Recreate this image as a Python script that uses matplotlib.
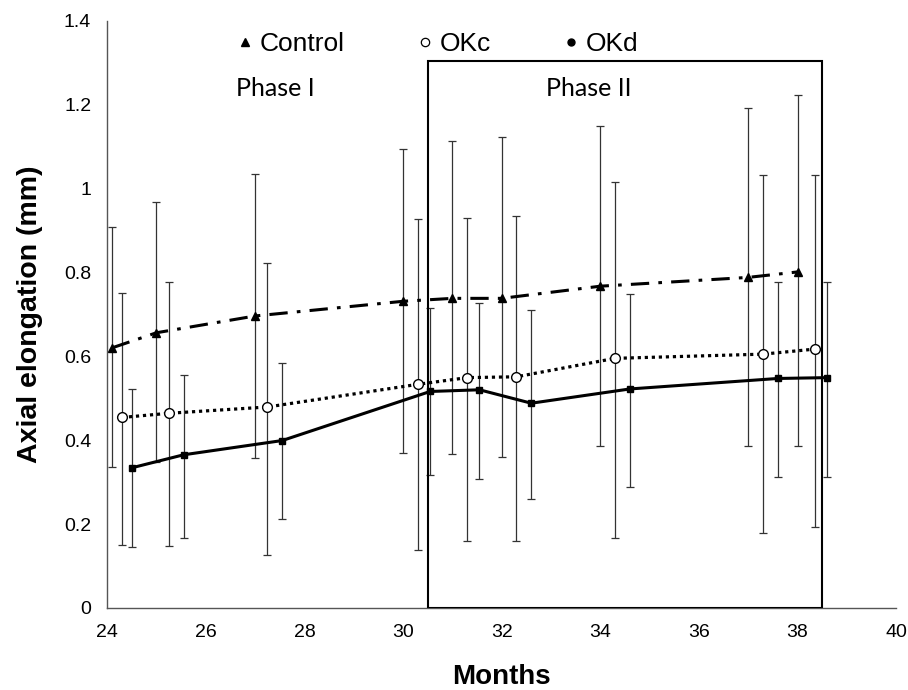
import matplotlib
matplotlib.use("Agg")
import matplotlib.pyplot as plt
from matplotlib.lines import Line2D
from matplotlib.patches import Rectangle

# data
ctrl_x = [24.1, 25.0, 27.0, 30.0, 31.0, 32.0, 34.0, 37.0, 38.0]
ctrl_y = [0.62, 0.656, 0.696, 0.731, 0.738, 0.738, 0.767, 0.788, 0.801]
ctrl_hi = [0.908, 0.967, 1.035, 1.094, 1.112, 1.122, 1.148, 1.193, 1.224]
ctrl_lo = [0.335, 0.347, 0.357, 0.369, 0.368, 0.360, 0.387, 0.385, 0.385]

okc_x = [24.3, 25.25, 27.25, 30.3, 31.3, 32.3, 34.3, 37.3, 38.35]
okc_y = [0.454, 0.464, 0.479, 0.533, 0.549, 0.551, 0.595, 0.605, 0.617]
okc_hi = [0.751, 0.776, 0.823, 0.928, 0.930, 0.935, 1.015, 1.031, 1.033]
okc_lo = [0.151, 0.147, 0.126, 0.138, 0.159, 0.159, 0.167, 0.179, 0.193]

okd_x = [24.5, 25.55, 27.55, 30.55, 31.55, 32.6, 34.6, 37.6, 38.6]
okd_y = [0.334, 0.365, 0.399, 0.516, 0.520, 0.488, 0.522, 0.547, 0.549]
okd_hi = [0.521, 0.556, 0.584, 0.714, 0.728, 0.710, 0.748, 0.776, 0.777]
okd_lo = [0.145, 0.167, 0.212, 0.318, 0.307, 0.260, 0.289, 0.311, 0.311]

phase2 = (30.5, 38.5)
x_ticks = [24, 26, 28, 30, 32, 34, 36, 38, 40]
y_ticks = [0, 0.2, 0.4, 0.6, 0.8, 1.0, 1.2, 1.4]
y_tick_labels = ["0", "0.2", "0.4", "0.6", "0.8", "1", "1.2", "1.4"]

plt.rcParams['font.family'] = ['Liberation Sans', 'DejaVu Sans']

fig = plt.figure(figsize=(9.08, 6.9), dpi=100)
ax = fig.add_axes([0.118, 0.119, 0.869, 0.851])

def draw(x, y, hi, lo, marker, mfc, ms, ls, lw):
    err = [[v - l for v, l in zip(y, lo)], [h - v for v, h in zip(y, hi)]]
    ax.errorbar(x, y, yerr=err, fmt='none', ecolor='#333333', elinewidth=0.9,
                capsize=3, capthick=0.9, zorder=2)
    ax.plot(x, y, color='black', linestyle=ls, lw=lw, zorder=3)
    ax.plot(x, y, linestyle='none', marker=marker, color='black', mfc=mfc,
            ms=ms, mew=1, zorder=4)

draw(ctrl_x, ctrl_y, ctrl_hi, ctrl_lo, '^', 'black', 6, (0, (6, 3, 1.2, 3)), 2.2)
draw(okc_x, okc_y, okc_hi, okc_lo, 'o', 'white', 7, (0, (1, 1.2)), 2.3)
draw(okd_x, okd_y, okd_hi, okd_lo, 's', 'black', 5, '-', 2.2)

# phase II box
ax.add_patch(Rectangle((phase2[0], 0), phase2[1] - phase2[0], 1.304,
                       fill=False, edgecolor='black', lw=1.5, zorder=5))
ax.text(27.41, 1.238, "Phase I", ha='center', va='center', fontsize=18,
        family=['Lato', 'DejaVu Sans'])
ax.text(33.76, 1.238, "Phase II", ha='center', va='center', fontsize=18,
        family=['Lato', 'DejaVu Sans'])

handles = [
    Line2D([], [], ls='none', marker='^', color='black', ms=6),
    Line2D([], [], ls='none', marker='o', color='black', mfc='white', ms=6, mew=0.9),
    Line2D([], [], ls='none', marker='o', color='black', ms=5),
]
ax.legend(handles, ["Control", "OKc", "OKd"], ncol=3, frameon=False,
          loc='center', bbox_to_anchor=(0.418, 0.96), fontsize=19,
          handletextpad=0.2, columnspacing=2.7, handlelength=0.7,
          borderpad=0, borderaxespad=0)

ax.set_xlim(24, 40)
ax.set_ylim(0, 1.4)
ax.set_xticks(x_ticks)
ax.set_yticks(y_ticks)
ax.set_yticklabels(y_tick_labels)
ax.tick_params(length=0, labelsize=14, pad=11.5)
for s in ['top', 'right']:
    ax.spines[s].set_visible(False)
for s in ['left', 'bottom']:
    ax.spines[s].set_color('#555555')
    ax.spines[s].set_linewidth(1)

ax.set_xlabel("Months", fontsize=20, fontweight='bold', labelpad=16.5)
ax.set_ylabel("Axial elongation (mm)", fontsize=20.5, fontweight='bold', labelpad=15)

fig.savefig("out.png", dpi=100)
